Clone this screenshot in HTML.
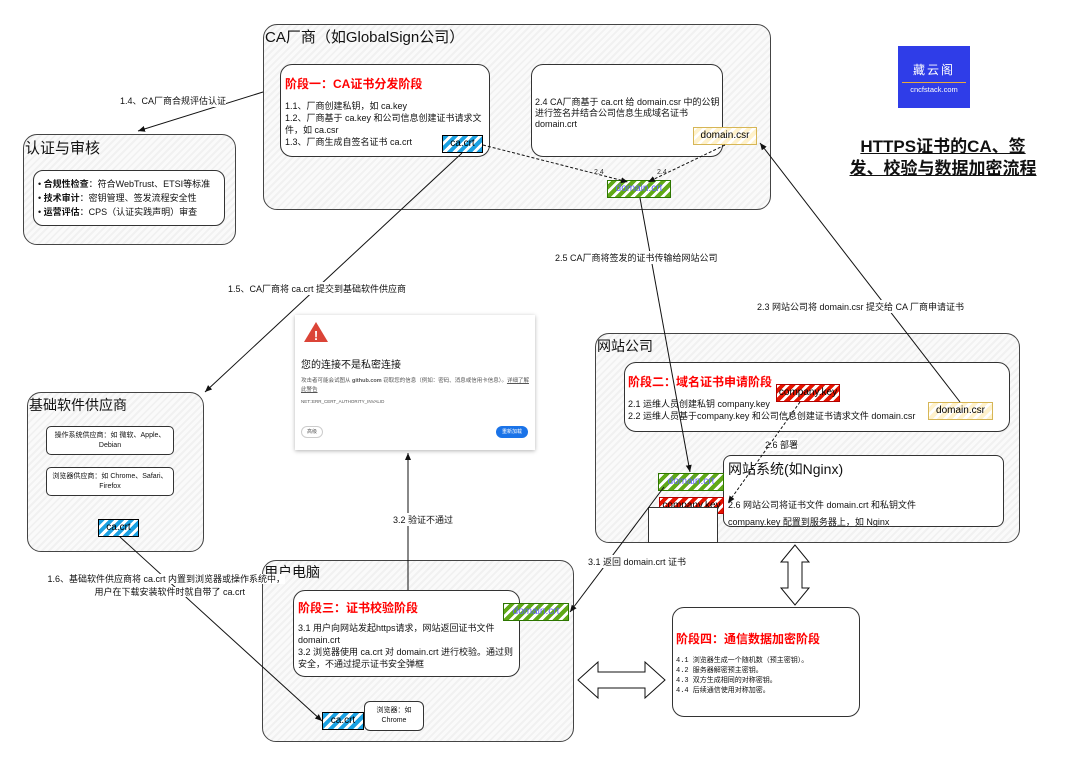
<!DOCTYPE html>
<html><head><meta charset="utf-8">
<style>
*{margin:0;padding:0;box-sizing:border-box}
body{width:1080px;height:771px;background:#fff;position:relative;overflow:hidden;font-family:"Liberation Sans","Noto Sans CJK SC",sans-serif;color:#111}
.a{position:absolute}
.box{position:absolute;border:1.3px solid #333;border-radius:12px;background:#fff}
.outer{position:absolute;border:1.3px solid #444;border-radius:14px;background:repeating-linear-gradient(-45deg,#fafafa 0 3px,#f1f1f1 3px 5px)}
.h{color:#f00;font-weight:bold;font-size:12px}
.tag{position:absolute;font-size:10px;text-align:center;line-height:15px;border:1.5px solid #000}
.blue{background:repeating-linear-gradient(-45deg,#1ba1e2 0 4px,#fff 4px 7px);color:#000}
.green{background:repeating-linear-gradient(-45deg,#60a917 0 4px,#fff 4px 7px);border-color:#2d7600;color:#6060ff}
.red{background:repeating-linear-gradient(-45deg,#e51400 0 4px,#fff 4px 7px);border-color:#b20000;color:#000}
.yel{background:repeating-linear-gradient(-45deg,#fff2cc 0 4px,#fff 4px 7px);border-color:#d6b656;color:#000}
.lbl{position:absolute;font-size:9px;white-space:nowrap;background:#fff}
</style></head><body>

<div class="outer" style="left:263px;top:24px;width:508px;height:186px"></div>
<div class="a" style="left:265px;top:26px;font-size:15px">CA厂商（如GlobalSign公司）</div>
<div class="box" style="left:280px;top:64px;width:210px;height:93px"></div>
<div class="a h" style="left:285px;top:75px">阶段一：CA证书分发阶段</div>
<div class="a" style="left:285px;top:100px;font-size:9px;line-height:12px;width:205px">1.1、厂商创建私钥，如 ca.key<br>1.2、厂商基于 ca.key 和公司信息创建证书请求文件，如 ca.csr<br>1.3、厂商生成自签名证书 ca.crt</div>
<div class="box" style="left:531px;top:64px;width:192px;height:93px"></div>
<div class="a" style="left:535px;top:97px;font-size:9px;line-height:11px;width:186px">2.4 CA厂商基于 ca.crt 给 domain.csr 中的公钥进行签名并结合公司信息生成域名证书 domain.crt</div>
<div class="tag blue" style="left:442px;top:135px;width:41px;height:18px">ca.crt</div>
<div class="tag yel" style="left:693px;top:127px;width:64px;height:18px">domain.csr</div>
<div class="tag green" style="left:607px;top:180px;width:64px;height:18px">domain.crt</div>

<div class="outer" style="left:23px;top:134px;width:213px;height:111px"></div>
<div class="a" style="left:25px;top:137px;font-size:15px">认证与审核</div>
<div class="box" style="left:33px;top:170px;width:192px;height:56px;border-radius:10px"></div>
<div class="a" style="left:38px;top:177px;font-size:9px;line-height:14px">• <b>合规性检查</b>：符合WebTrust、ETSI等标准<br>• <b>技术审计</b>：密钥管理、签发流程安全性<br>• <b>运营评估</b>：CPS（认证实践声明）审查</div>

<div class="a" style="left:898px;top:46px;width:72px;height:62px;background:#2f3de8;color:#fff;text-align:center">
<div style="font-size:12px;margin-top:15px;letter-spacing:2px">藏云阁</div>
<div style="height:1px;background:#e8a93a;margin:4px 4px 2px"></div>
<div style="font-size:7.5px">cncfstack.com</div></div>
<div class="a" style="left:836px;top:136px;width:214px;text-align:center;font-size:17px;font-weight:bold;line-height:22px;text-decoration:underline">HTTPS证书的CA、签<br>发、校验与数据加密流程</div>

<div class="a" style="left:295px;top:315px;width:240px;height:135px;background:#fff;box-shadow:0 1px 4px rgba(0,0,0,.3)"></div>
<svg class="a" style="left:303px;top:321px" width="26" height="22"><polygon points="13,1 25,21 1,21" fill="#db4437"/><text x="13" y="19" font-size="13" fill="#fff" text-anchor="middle" font-weight="bold" font-family="Liberation Sans">!</text></svg>
<div class="a" style="left:301px;top:356px;font-size:10px">您的连接不是私密连接</div>
<div class="a" style="left:301px;top:377px;font-size:5.5px;line-height:9px;color:#555;width:228px">攻击者可能会试图从 <b>github.com</b> 窃取您的信息（例如：密码、消息或信用卡信息）。<u>详细了解此警告</u></div>
<div class="a" style="left:301px;top:399px;font-size:4.5px;color:#555">NET::ERR_CERT_AUTHORITY_INVALID</div>
<div class="a" style="left:301px;top:426px;width:22px;height:12px;border:1px solid #ccc;border-radius:6px;font-size:5px;text-align:center;line-height:10px;color:#555">高级</div>
<div class="a" style="left:496px;top:426px;width:32px;height:12px;background:#1a73e8;border-radius:6px;font-size:5px;text-align:center;line-height:12px;color:#fff">重新加载</div>

<div class="outer" style="left:595px;top:333px;width:425px;height:210px"></div>
<div class="a" style="left:597px;top:336px;font-size:14px">网站公司</div>
<div class="box" style="left:624px;top:362px;width:386px;height:70px"></div>
<div class="a h" style="left:628px;top:373px">阶段二：域名证书申请阶段</div>
<div class="a" style="left:628px;top:398px;font-size:9px;line-height:12px;white-space:nowrap">2.1 运维人员创建私钥 company.key<br>2.2 运维人员基于company.key 和公司信息创建证书请求文件 domain.csr</div>
<div class="tag red" style="left:776px;top:384px;width:64px;height:18px">company.key</div>
<div class="tag yel" style="left:928px;top:402px;width:65px;height:18px">domain.csr</div>
<div class="lbl" style="left:765px;top:438px">2.6 部署</div>
<div class="box" style="left:723px;top:455px;width:281px;height:72px;border-radius:8px"></div>
<div class="a" style="left:728px;top:459px;font-size:14px">网站系统(如Nginx)</div>
<div class="a" style="left:728px;top:497px;font-size:9px;line-height:17px">2.6 网站公司将证书文件 domain.crt 和私钥文件<br>company.key 配置到服务器上，如 Nginx</div>
<div class="tag green" style="left:658px;top:473px;width:66px;height:18px">domain.crt</div>
<div class="tag red" style="left:659px;top:497px;width:65px;height:17px">company.key</div>
<div class="a" style="left:648px;top:507px;width:70px;height:36px;background:#fff;border:1px solid #333"></div>

<div class="outer" style="left:27px;top:392px;width:177px;height:160px"></div>
<div class="a" style="left:29px;top:395px;font-size:14px">基础软件供应商</div>
<div class="box" style="left:46px;top:426px;width:128px;height:29px;border-radius:5px"></div>
<div class="a" style="left:48px;top:431px;width:124px;text-align:center;font-size:7px;line-height:10px">操作系统供应商：如 微软、Apple、Debian</div>
<div class="box" style="left:46px;top:467px;width:128px;height:29px;border-radius:5px"></div>
<div class="a" style="left:48px;top:472px;width:124px;text-align:center;font-size:7px;line-height:10px">浏览器供应商：如 Chrome、Safari、Firefox</div>
<div class="tag blue" style="left:98px;top:519px;width:41px;height:18px">ca.crt</div>

<div class="outer" style="left:262px;top:560px;width:312px;height:182px"></div>
<div class="a" style="left:264px;top:562px;font-size:14px">用户电脑</div>
<div class="box" style="left:293px;top:590px;width:227px;height:87px"></div>
<div class="a h" style="left:298px;top:599px">阶段三：证书校验阶段</div>
<div class="a" style="left:298px;top:622px;font-size:9px;line-height:12px;width:220px">3.1 用户向网站发起https请求，网站返回证书文件 domain.crt<br>3.2 浏览器使用 ca.crt 对 domain.crt 进行校验。通过则安全，不通过提示证书安全弹框</div>
<div class="tag green" style="left:503px;top:603px;width:66px;height:18px">domain.crt</div>
<div class="box" style="left:364px;top:701px;width:60px;height:30px;border-radius:6px"></div>
<div class="a" style="left:366px;top:706px;width:56px;text-align:center;font-size:7px;line-height:10px">浏览器：如<br>Chrome</div>
<div class="tag blue" style="left:322px;top:712px;width:42px;height:18px">ca.crt</div>

<div class="box" style="left:672px;top:607px;width:188px;height:110px;border-radius:12px"></div>
<div class="a h" style="left:676px;top:630px">阶段四：通信数据加密阶段</div>
<div class="a" style="left:676px;top:656px;font-size:7px;line-height:10px;font-family:'Liberation Mono','Noto Sans CJK SC',monospace">4.1 浏览器生成一个随机数（预主密钥）。<br>4.2 服务器解密预主密钥。<br>4.3 双方生成相同的对称密钥。<br>4.4 后续通信使用对称加密。</div>

<svg class="a" style="left:0;top:0" width="1080" height="771">
<defs><marker id="m" markerWidth="8" markerHeight="8" refX="7" refY="4" orient="auto"><path d="M0,1 L7,4 L0,7 z" fill="#111"/></marker></defs>
<g stroke="#111" stroke-width="1" fill="none">
<path d="M263,92 L138,131" marker-end="url(#m)"/>
<path d="M462,153 L205,392" marker-end="url(#m)"/>
<path d="M483,145 L628,182" stroke-dasharray="3,2" marker-end="url(#m)"/>
<path d="M725,145 L648,182" stroke-dasharray="3,2" marker-end="url(#m)"/>
<path d="M640,198 L690,472" marker-end="url(#m)"/>
<path d="M960,402 L760,143" marker-end="url(#m)"/>
<path d="M800,402 L728,503" stroke-dasharray="3,2" marker-end="url(#m)"/>
<path d="M664,487 L570,612" marker-end="url(#m)"/>
<path d="M120,537 L322,721" marker-end="url(#m)"/>
<path d="M408,590 L408,453" marker-end="url(#m)"/>
<path d="M795,545 L781,562 L788,562 L788,588 L781,588 L795,605 L809,588 L802,588 L802,562 L809,562 Z" fill="#fff"/>
<path d="M578,680 L598,662 L598,672 L645,672 L645,662 L665,680 L645,698 L645,688 L598,688 L598,698 Z" fill="#fff"/>
</g>
<g font-size="7" font-family="Liberation Sans" fill="#333"><text x="594" y="174">2.4</text><text x="657" y="174">2.4</text></g>
</svg>
<div class="lbl" style="left:120px;top:94px">1.4、CA厂商合规评估认证</div>
<div class="lbl" style="left:228px;top:282px">1.5、CA厂商将 ca.crt 提交到基础软件供应商</div>
<div class="lbl" style="left:555px;top:251px">2.5 CA厂商将签发的证书传输给网站公司</div>
<div class="lbl" style="left:757px;top:300px">2.3 网站公司将 domain.csr 提交给 CA 厂商申请证书</div>
<div class="lbl" style="left:393px;top:513px">3.2 验证不通过</div>
<div class="lbl" style="left:588px;top:555px">3.1 返回 domain.crt 证书</div>
<div class="a" style="left:30px;top:573px;width:255px;text-align:right;font-size:9px;line-height:13px;white-space:nowrap"><span style="background:#fff">1.6、基础软件供应商将 ca.crt 内置到浏览器或操作系统中，</span><br><span style="background:#fff;margin-right:40px">用户在下载安装软件时就自带了 ca.crt</span></div>
</body></html>
